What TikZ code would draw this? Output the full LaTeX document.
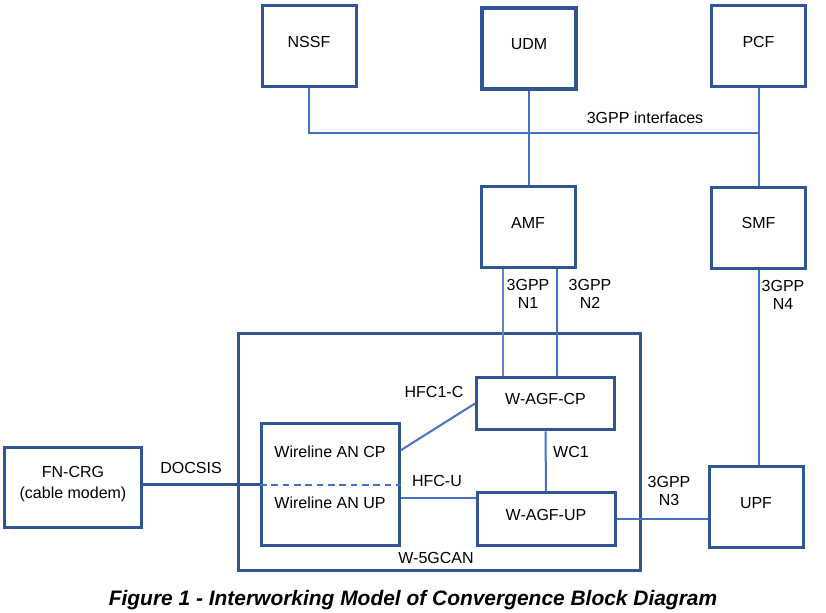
\documentclass[tikz,border=0pt]{standalone}
\usepackage{fontspec}
\setmainfont{Liberation Sans}

\definecolor{boxblue}{RGB}{47,85,151}
\definecolor{linkblue}{RGB}{68,114,196}

\tikzset{every picture/.style={line width=0.75pt}}
\tikzset{
  nf/.style={draw=boxblue, line width=2.25pt, inner sep=0pt,
    minimum width=70.5pt, minimum height=60.75pt,
    font=\fontsize{12}{14}\selectfont, text height=0.72em, text depth=0.5em},
  agf/.style={nf, minimum width=103.5pt, minimum height=39.5pt},
  link/.style={draw=linkblue, line width=1.5pt},
  thinlink/.style={draw=linkblue!85, line width=0.9pt},
  lbl/.style={font=\fontsize{12}{13.5}\selectfont, align=center, inner sep=0pt}
}

\begin{document}
\begin{tikzpicture}[x=0.75pt,y=0.75pt,yscale=-1,xscale=1]
\useasboundingbox (0,0) rectangle (826,612);

%Shape: Rectangle [W-5GCAN]
\node[nf, minimum width=301.5pt, minimum height=177.75pt] (wcan) at (439.5,452) {};

%Shape: Square [core functions]
\node[nf] (nssf) at (309,46) {NSSF};
\node[nf, line width=2.8pt] (udm) at (529,48.5) {UDM};
\node[nf] (pcf) at (758.5,46) {PCF};
\node[nf] (amf) at (528,227) {AMF};
\node[nf] (smf) at (758.5,227.5) {SMF};
\node[nf] (upf) at (756,507) {UPF};

%Shape: Rectangle [access side]
\node[nf, minimum width=102.75pt, minimum height=60pt, text height=, text depth=10.5pt] (fncrg) at (73,487.5)
  {\fontsize{12}{15.75}\selectfont\begin{tabular}[b]{@{}c@{}}FN-CRG\\(cable modem)\end{tabular}};
\node[nf, minimum width=103.5pt, minimum height=91.5pt] (wan) at (330.5,484.5) {};
\node[agf] (agfcp) at (545.5,403.5) {W-AGF-CP};
\node[agf] (agfup) at (546,519) {W-AGF-UP};

%Straight Lines [3GPP interfaces bus]
\coordinate (bus) at (758.5,133);
\draw[link] (nssf.south) -- (nssf.south |- bus) -- (bus);
\draw[link] (udm.south) -- (udm.south |- amf.north);
\draw[link] (pcf.south) -- (smf.north);

%Straight Lines [N1, N2, N4, N3]
\draw[thinlink] ([xshift=-18.75pt]amf.south) -- ([xshift=-18.75pt]amf.south |- agfcp.north);
\draw[link] ([xshift=21.75pt]amf.south) -- ([xshift=21.75pt]amf.south |- agfcp.north);
\draw[link] (smf.south) -- (smf.south |- upf.north);
\draw[link] (agfup.east) -- (agfup.east -| upf.west);

%Straight Lines [inside W-5GCAN]
\draw[link] (wan.26) -- (agfcp.west);
\draw[link] (agfcp.south) -- (agfup.north);
\draw[link] (wan.-11) -- (wan.-11 -| agfup.west);
\draw[link, dash pattern=on 5pt off 3.5pt] (wan.west) -- (wan.east);

%Straight Lines [DOCSIS]
\draw[draw=boxblue, line width=1.6pt] (fncrg.east |- wan.west) -- (wan.west);

% Text Node
\node[lbl] (ancp) at (330,452) {Wireline AN CP};
% Text Node
\node[lbl] (anup) at (330,503) {Wireline AN UP};
% Text Node
\node[lbl] (ifaces) at (645,118) {3GPP interfaces};
% Text Node
\node[lbl] (nA) at (528,294) {3GPP\\N1};
% Text Node
\node[lbl] (nB) at (590,294) {3GPP\\N2};
% Text Node
\node[lbl] (nD) at (783,294.5) {3GPP\\N4};
% Text Node
\node[lbl] (nC) at (669,491) {3GPP\\N3};
% Text Node
\node[lbl] (hfcc) at (434,392) {HFC1-C};
% Text Node
\node[lbl] (wc) at (571,452) {WC1};
% Text Node
\node[lbl] (hfcu) at (437,481) {HFC-U};
% Text Node
\node[lbl] (wname) at (436,558) {W-5GCAN};
% Text Node
\node[lbl] (docsis) at (191,468) {DOCSIS};
% Text Node
\node[font=\bfseries\itshape\fontsize{15.7}{18}\selectfont, inner sep=0pt] (caption) at (413,600)
  {Figure 1 - Interworking Model of Convergence Block Diagram};

\end{tikzpicture}
\end{document}
